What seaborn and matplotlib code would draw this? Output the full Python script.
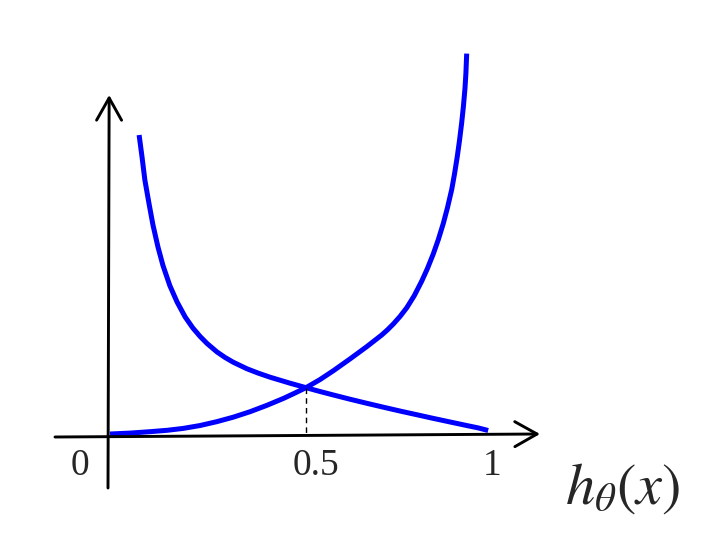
import matplotlib
matplotlib.use("Agg")
import matplotlib.pyplot as plt
import seaborn as sns

# curve: -log(1 - h)  (rising)
rise_x = [0.005, 0.057, 0.109, 0.154, 0.196, 0.240, 0.283, 0.326, 0.370, 0.414,
          0.457, 0.487, 0.516, 0.552, 0.587, 0.630, 0.6737, 0.7128, 0.7279, 0.7430,
          0.7604, 0.7779, 0.7974, 0.8169, 0.8320, 0.8471, 0.8602, 0.8732, 0.8841, 0.8951,
          0.9023, 0.9096, 0.9154, 0.9211, 0.9255, 0.9297, 0.9320, 0.9341]
rise_y = [0.030, 0.039, 0.053, 0.067, 0.086, 0.115, 0.153, 0.198, 0.253, 0.317,
          0.386, 0.440, 0.494, 0.574, 0.663, 0.780, 0.903, 1.020, 1.072, 1.130,
          1.205, 1.292, 1.412, 1.558, 1.686, 1.831, 1.974, 2.136, 2.294, 2.475,
          2.629, 2.805, 2.966, 3.144, 3.304, 3.490, 3.634, 3.834]

# curve: -log(h)  (falling)
fall_x = [0.081, 0.089, 0.096, 0.107, 0.117, 0.130, 0.143, 0.161, 0.180, 0.201,
          0.221, 0.240, 0.258, 0.284, 0.305, 0.326, 0.362, 0.391, 0.422, 0.474,
          0.516, 0.552, 0.586, 0.630, 0.674, 0.716, 0.760, 0.805, 0.846, 0.891,
          0.935, 0.964, 0.990]
fall_y = [3.020, 2.789, 2.570, 2.330, 2.122, 1.902, 1.717, 1.514, 1.349, 1.200,
          1.090, 1.005, 0.935, 0.850, 0.795, 0.748, 0.682, 0.639, 0.598, 0.538,
          0.493, 0.455, 0.421, 0.378, 0.337, 0.299, 0.260, 0.222, 0.187, 0.150,
          0.114, 0.091, 0.065]

# crossing point and tick labels
cross_x, cross_y = 0.516, 0.493
tick_values = [0, 0.5, 1]
tick_labels = ["0", "0.5", "1"]
x_label = r"$h_{\theta}(x)$"

sns.set_style("white")
plt.rcParams["mathtext.fontset"] = "stix"

fig = plt.figure(figsize=(7.08, 5.44), dpi=100)
ax = fig.add_axes([0, 0, 1, 1])
ax.set_xlim(-0.28125, 1.5625)
ax.set_ylim(-1.07, 4.37)
ax.axis("off")

# axes drawn as open arrows
arrow = dict(arrowstyle="->,head_length=16,head_width=9", color="black",
             lw=2.1, mutation_scale=1, shrinkA=0, shrinkB=0)
ax.annotate("", xy=(1.125, 0.03), xytext=(-0.138, 0.0), arrowprops=arrow)
ax.annotate("", xy=(0.003, 3.42), xytext=(0.0, -0.51), arrowprops=arrow)

sns.lineplot(x=rise_x, y=rise_y, ax=ax, color="#0000ff", lw=3.6,
             solid_capstyle="butt", solid_joinstyle="round")
sns.lineplot(x=fall_x, y=fall_y, ax=ax, color="#0000ff", lw=3.6,
             solid_capstyle="butt", solid_joinstyle="round")

# dashed drop line from the crossing
ax.plot([cross_x, cross_x], [cross_y, 0.04], color="black", lw=1.0,
        ls=(0, (4, 3)))

label_shift = [-0.073, 0.042, 0.0]
for v, t, s in zip(tick_values, tick_labels, label_shift):
    ax.text(v + s, -0.29, t, ha="center", va="center", fontsize=27,
            family="Liberation Serif")

ax.text(1.34, -0.51, x_label, ha="center", va="center", fontsize=42)

fig.savefig("out.png", dpi=100)
